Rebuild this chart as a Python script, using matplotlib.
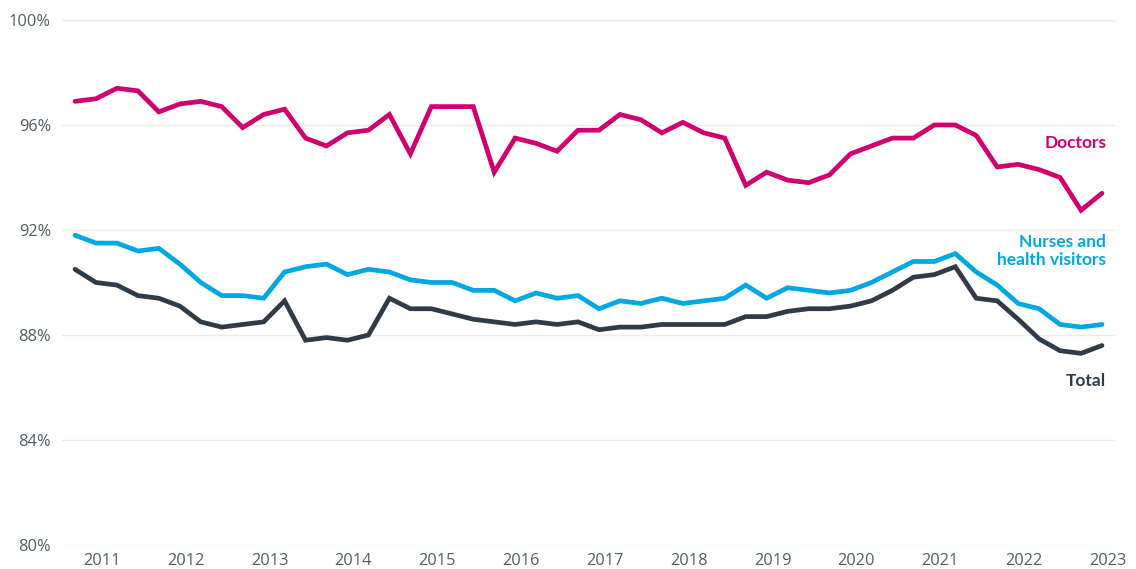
import numpy as np
import matplotlib
matplotlib.use('Agg')
import matplotlib.pyplot as plt

plt.rcParams['font.family'] = ['Lato', 'DejaVu Sans']

# Valores trimestrales (%)
doctors = [96.9, 97.0, 97.4, 97.3, 96.5, 96.8, 96.9, 96.7, 95.9, 96.4,
           96.6, 95.5, 95.2, 95.7, 95.8, 96.4, 94.9, 96.7, 96.7, 96.7,
           94.2, 95.5, 95.3, 95.0, 95.8, 95.8, 96.4, 96.2, 95.7, 96.1,
           95.7, 95.5, 93.7, 94.2, 93.9, 93.8, 94.1, 94.9, 95.2, 95.5,
           95.5, 96.0, 96.0, 95.6, 94.4, 94.5, 94.3, 94.0, 92.75, 93.4]
nurses = [91.8, 91.5, 91.5, 91.2, 91.3, 90.7, 90.0, 89.5, 89.5, 89.4,
          90.4, 90.6, 90.7, 90.3, 90.5, 90.4, 90.1, 90.0, 90.0, 89.7,
          89.7, 89.3, 89.6, 89.4, 89.5, 89.0, 89.3, 89.2, 89.4, 89.2,
          89.3, 89.4, 89.9, 89.4, 89.8, 89.7, 89.6, 89.7, 90.0, 90.4,
          90.8, 90.8, 91.1, 90.4, 89.9, 89.2, 89.0, 88.4, 88.3, 88.4]
total = [90.5, 90.0, 89.9, 89.5, 89.4, 89.1, 88.5, 88.3, 88.4, 88.5,
         89.3, 87.8, 87.9, 87.8, 88.0, 89.4, 89.0, 89.0, 88.8, 88.6,
         88.5, 88.4, 88.5, 88.4, 88.5, 88.2, 88.3, 88.3, 88.4, 88.4,
         88.4, 88.4, 88.7, 88.7, 88.9, 89.0, 89.0, 89.1, 89.3, 89.7,
         90.2, 90.3, 90.6, 89.4, 89.3, 88.6, 87.85, 87.4, 87.3, 87.6]
years = list(range(2011, 2024))
yticks = [80, 84, 88, 92, 96, 100]

c_doc = '#D1006F'
c_nur = '#00A8E1'
c_tot = '#2F3B47'

# eje x en anos (trimestres)
x = 2010.68 + 0.25*np.arange(len(doctors))

fig = plt.figure(figsize=(11.36, 5.69), dpi=100)
ax = fig.add_axes([0.0546, 0.0422, 0.9269, 0.9227])

for serie, col in [(total, c_tot), (nurses, c_nur), (doctors, c_doc)]:
    ax.plot(x, serie, color=col, lw=3.4, solid_capstyle='round',
            solid_joinstyle='miter', zorder=3)

ax.set_ylim(80, 100)
ax.set_xlim(2010.525, 2023.085)
ax.set_yticks(yticks)
ax.set_yticklabels([str(v) + '%' for v in yticks])
ax.set_xticks(years)
ax.set_xticklabels([str(a) for a in years])
ax.grid(axis='y', color='#ebebeb', lw=1, zorder=0)
ax.grid(axis='x', visible=False)
for s in ax.spines.values():
    s.set_visible(False)
ax.tick_params(axis='both', length=0, labelsize=11.8, labelcolor='#535c66')
for lab in ax.get_xticklabels() + ax.get_yticklabels():
    lab.set_family(['Open Sans', 'DejaVu Sans'])
ax.tick_params(axis='y', pad=8)
ax.tick_params(axis='x', pad=6)

# etiquetas de series
ax.text(2022.98, 95.31, 'Doctors', color=c_doc, fontsize=12.5,
        fontweight='bold', ha='right', va='center')
ax.text(2022.98, 91.2, 'Nurses and\nhealth visitors', color=c_nur,
        fontsize=12.5, fontweight='bold', ha='right', va='center',
        multialignment='right', linespacing=1.15)
ax.text(2022.98, 86.25, 'Total', color=c_tot, fontsize=12.5,
        fontweight='bold', ha='right', va='center')

fig.savefig('out.png', dpi=100)
